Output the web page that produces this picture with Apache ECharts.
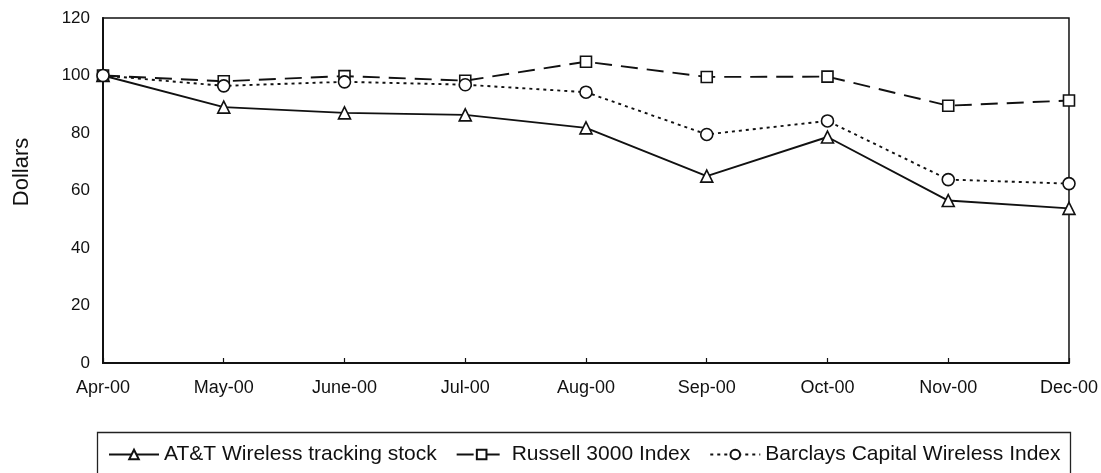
<!DOCTYPE html>
<html>
<head>
<meta charset="utf-8">
<script src="https://cdn.jsdelivr.net/npm/echarts@6/dist/echarts.min.js"></script>
<style>
html,body{margin:0;padding:0;background:#fff;}
#chart{width:1101px;height:473px;}
</style>
</head>
<body>
<div id="chart"></div>
<script>
const categories = ['Apr-00','May-00','June-00','Jul-00','Aug-00','Sep-00','Oct-00','Nov-00','Dec-00'];
const attWireless = [100, 89, 87, 86.3, 81.8, 65, 78.6, 56.5, 53.8];
const russell3000 = [100, 98, 99.8, 98.2, 104.8, 99.5, 99.6, 89.5, 91.3];
const barclaysWireless = [100, 96.4, 97.8, 96.8, 94.2, 79.5, 84.2, 63.8, 62.4];
const yTicks = {min: 0, max: 120, interval: 20};

const font = 'Liberation Sans, Arial, Helvetica, sans-serif';
const chart = echarts.init(document.getElementById('chart'));
const base = {
  type: 'line',
  symbolSize: 12,
  color: '#111',
  itemStyle: {color: '#fff', borderColor: '#111', borderWidth: 1.6},
  animation: false
};
chart.setOption({
  animation: false,
  backgroundColor: '#fff',
  grid: {left: 103, right: 31, top: 18, bottom: 110, show: true, borderColor: '#111', borderWidth: 1.5},
  graphic: [{
    type: 'rect', left: 95, top: 430,
    shape: {width: 973, height: 50},
    style: {fill: 'none', stroke: '#222', lineWidth: 1.3},
    silent: true
  }, {
    type: 'text', x: 22, y: 172, rotation: Math.PI / 2,
    style: {text: 'Dollars', fontFamily: font, fontSize: 22, fill: '#111', align: 'center', verticalAlign: 'middle'},
    silent: true
  }],
  legend: {
    top: 439, left: 103,
    itemWidth: 50, itemHeight: 12, itemGap: 19,
    textStyle: {fontFamily: font, fontSize: 21, color: '#111'},
    data: ['AT&T Wireless tracking stock', 'Russell 3000 Index', 'Barclays Capital Wireless Index']
  },
  xAxis: {
    type: 'category', data: categories, boundaryGap: false,
    axisLine: {lineStyle: {color: '#111', width: 2}},
    axisTick: {show: true, inside: true, length: 5, alignWithLabel: true, lineStyle: {color: '#111', width: 1.2}},
    axisLabel: {fontFamily: font, fontSize: 18, color: '#111', margin: 16, interval: 0}
  },
  yAxis: {
    type: 'value', min: yTicks.min, max: yTicks.max, interval: yTicks.interval,
    splitLine: {show: false},
    axisLine: {show: true, lineStyle: {color: '#111', width: 2}},
    axisTick: {show: false},
    axisLabel: {fontFamily: font, fontSize: 17, color: '#111', margin: 13}
  },
  series: [
    Object.assign({}, base, {name: 'AT&T Wireless tracking stock', data: attWireless, symbol: 'triangle',
      lineStyle: {color: '#111', width: 1.9, type: 'solid'}}),
    Object.assign({}, base, {name: 'Russell 3000 Index', data: russell3000, symbol: 'rect', symbolSize: 11,
      lineStyle: {color: '#111', width: 1.9, type: [17, 9]}}),
    Object.assign({}, base, {name: 'Barclays Capital Wireless Index', data: barclaysWireless, symbol: 'circle',
      lineStyle: {color: '#111', width: 1.9, type: [3, 4]}})
  ]
});
</script>
</body>
</html>
